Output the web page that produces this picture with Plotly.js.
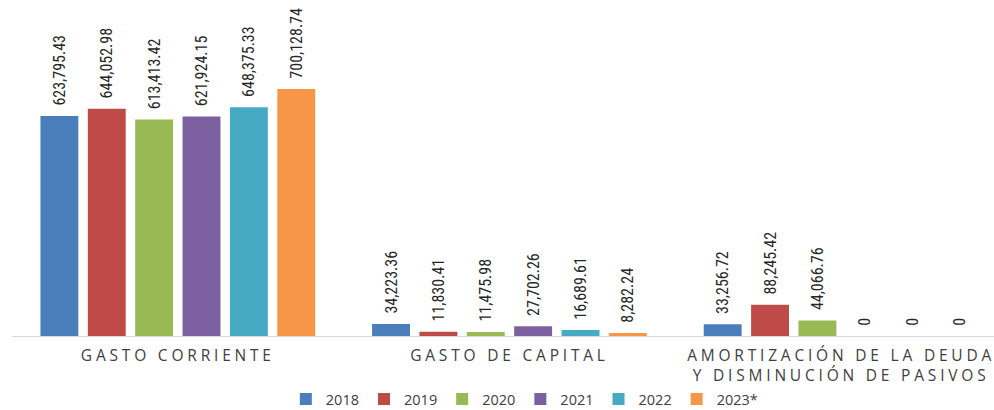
<!DOCTYPE html>
<html>
<head>
<meta charset="utf-8">
<script src="https://cdn.plot.ly/plotly-3.0.1.min.js"></script>
<style>
html,body{margin:0;padding:0;background:#fff;}
#chart{width:994px;height:410px;}
.xtick text{letter-spacing:3.8px;}
</style>
</head>
<body>
<div id="chart"></div>
<script>
const categories = ["GASTO CORRIENTE", "GASTO DE CAPITAL", "AMORTIZACIÓN DE LA DEUDA<br>Y DISMINUCIÓN DE PASIVOS"];
const seriesNames = ["2018", "2019", "2020", "2021", "2022", "2023*"];
const v2018 = [623795.43, 34223.36, 33256.72];
const v2019 = [644052.98, 11830.41, 88245.42];
const v2020 = [613413.42, 11475.98, 44066.76];
const v2021 = [621924.15, 27702.26, 0];
const v2022 = [648375.33, 16689.61, 0];
const v2023 = [700128.74, 8282.24, 0];
const colors = ["#4A7EBB", "#BE4B48", "#98B954", "#7D60A0", "#46AAC5", "#F79646"];

const allValues = [v2018, v2019, v2020, v2021, v2022, v2023];
function fmt(v){
  if (v === 0) return "\u00a0\u00a00";
  return "\u00a0\u00a0" + v.toLocaleString("en-US", {minimumFractionDigits: 2, maximumFractionDigits: 2});
}
const traces = allValues.map((vals, i) => ({
  type: "bar",
  name: seriesNames[i],
  x: categories,
  y: vals,
  text: vals.map(fmt),
  textposition: "outside",
  textangle: -90,
  constraintext: "none",
  cliponaxis: false,
  textfont: {family: "Liberation Sans Narrow, Roboto Condensed, Arial Narrow, sans-serif", size: 16, color: "#262626"},
  marker: {color: colors[i]},
  hoverinfo: "none"
}));

const layout = {
  width: 994, height: 410,
  margin: {l: 12, r: 0, t: 0, b: 74, pad: 0, autoexpand: false},
  paper_bgcolor: "#fff", plot_bgcolor: "#fff",
  barmode: "group",
  bargap: 0.143,
  bargroupgap: 0.2,
  showlegend: true,
  legend: {
    orientation: "h",
    xref: "container", yref: "paper",
    x: 0.528, xanchor: "center",
    y: -0.1875, yanchor: "middle",
    bgcolor: "rgba(0,0,0,0)",
    font: {family: "Open Sans, sans-serif", size: 14.5, color: "#404040"},
    itemwidth: 30,
    tracegroupgap: 0
  },
  xaxis: {
    type: "category",
    range: [-0.5, 2.461],
    showline: true, linecolor: "#D9D9D9", linewidth: 1,
    ticks: "", showgrid: false, zeroline: false,
    ticklabelstandoff: 5,
    tickfont: {family: "Open Sans, sans-serif", size: 15.5, color: "#404040"}
  },
  yaxis: {
    range: [0, 952380],
    visible: false,
    showgrid: false, zeroline: false
  }
};

Plotly.newPlot("chart", traces, layout, {staticPlot: true, displayModeBar: false});
</script>
</body>
</html>
